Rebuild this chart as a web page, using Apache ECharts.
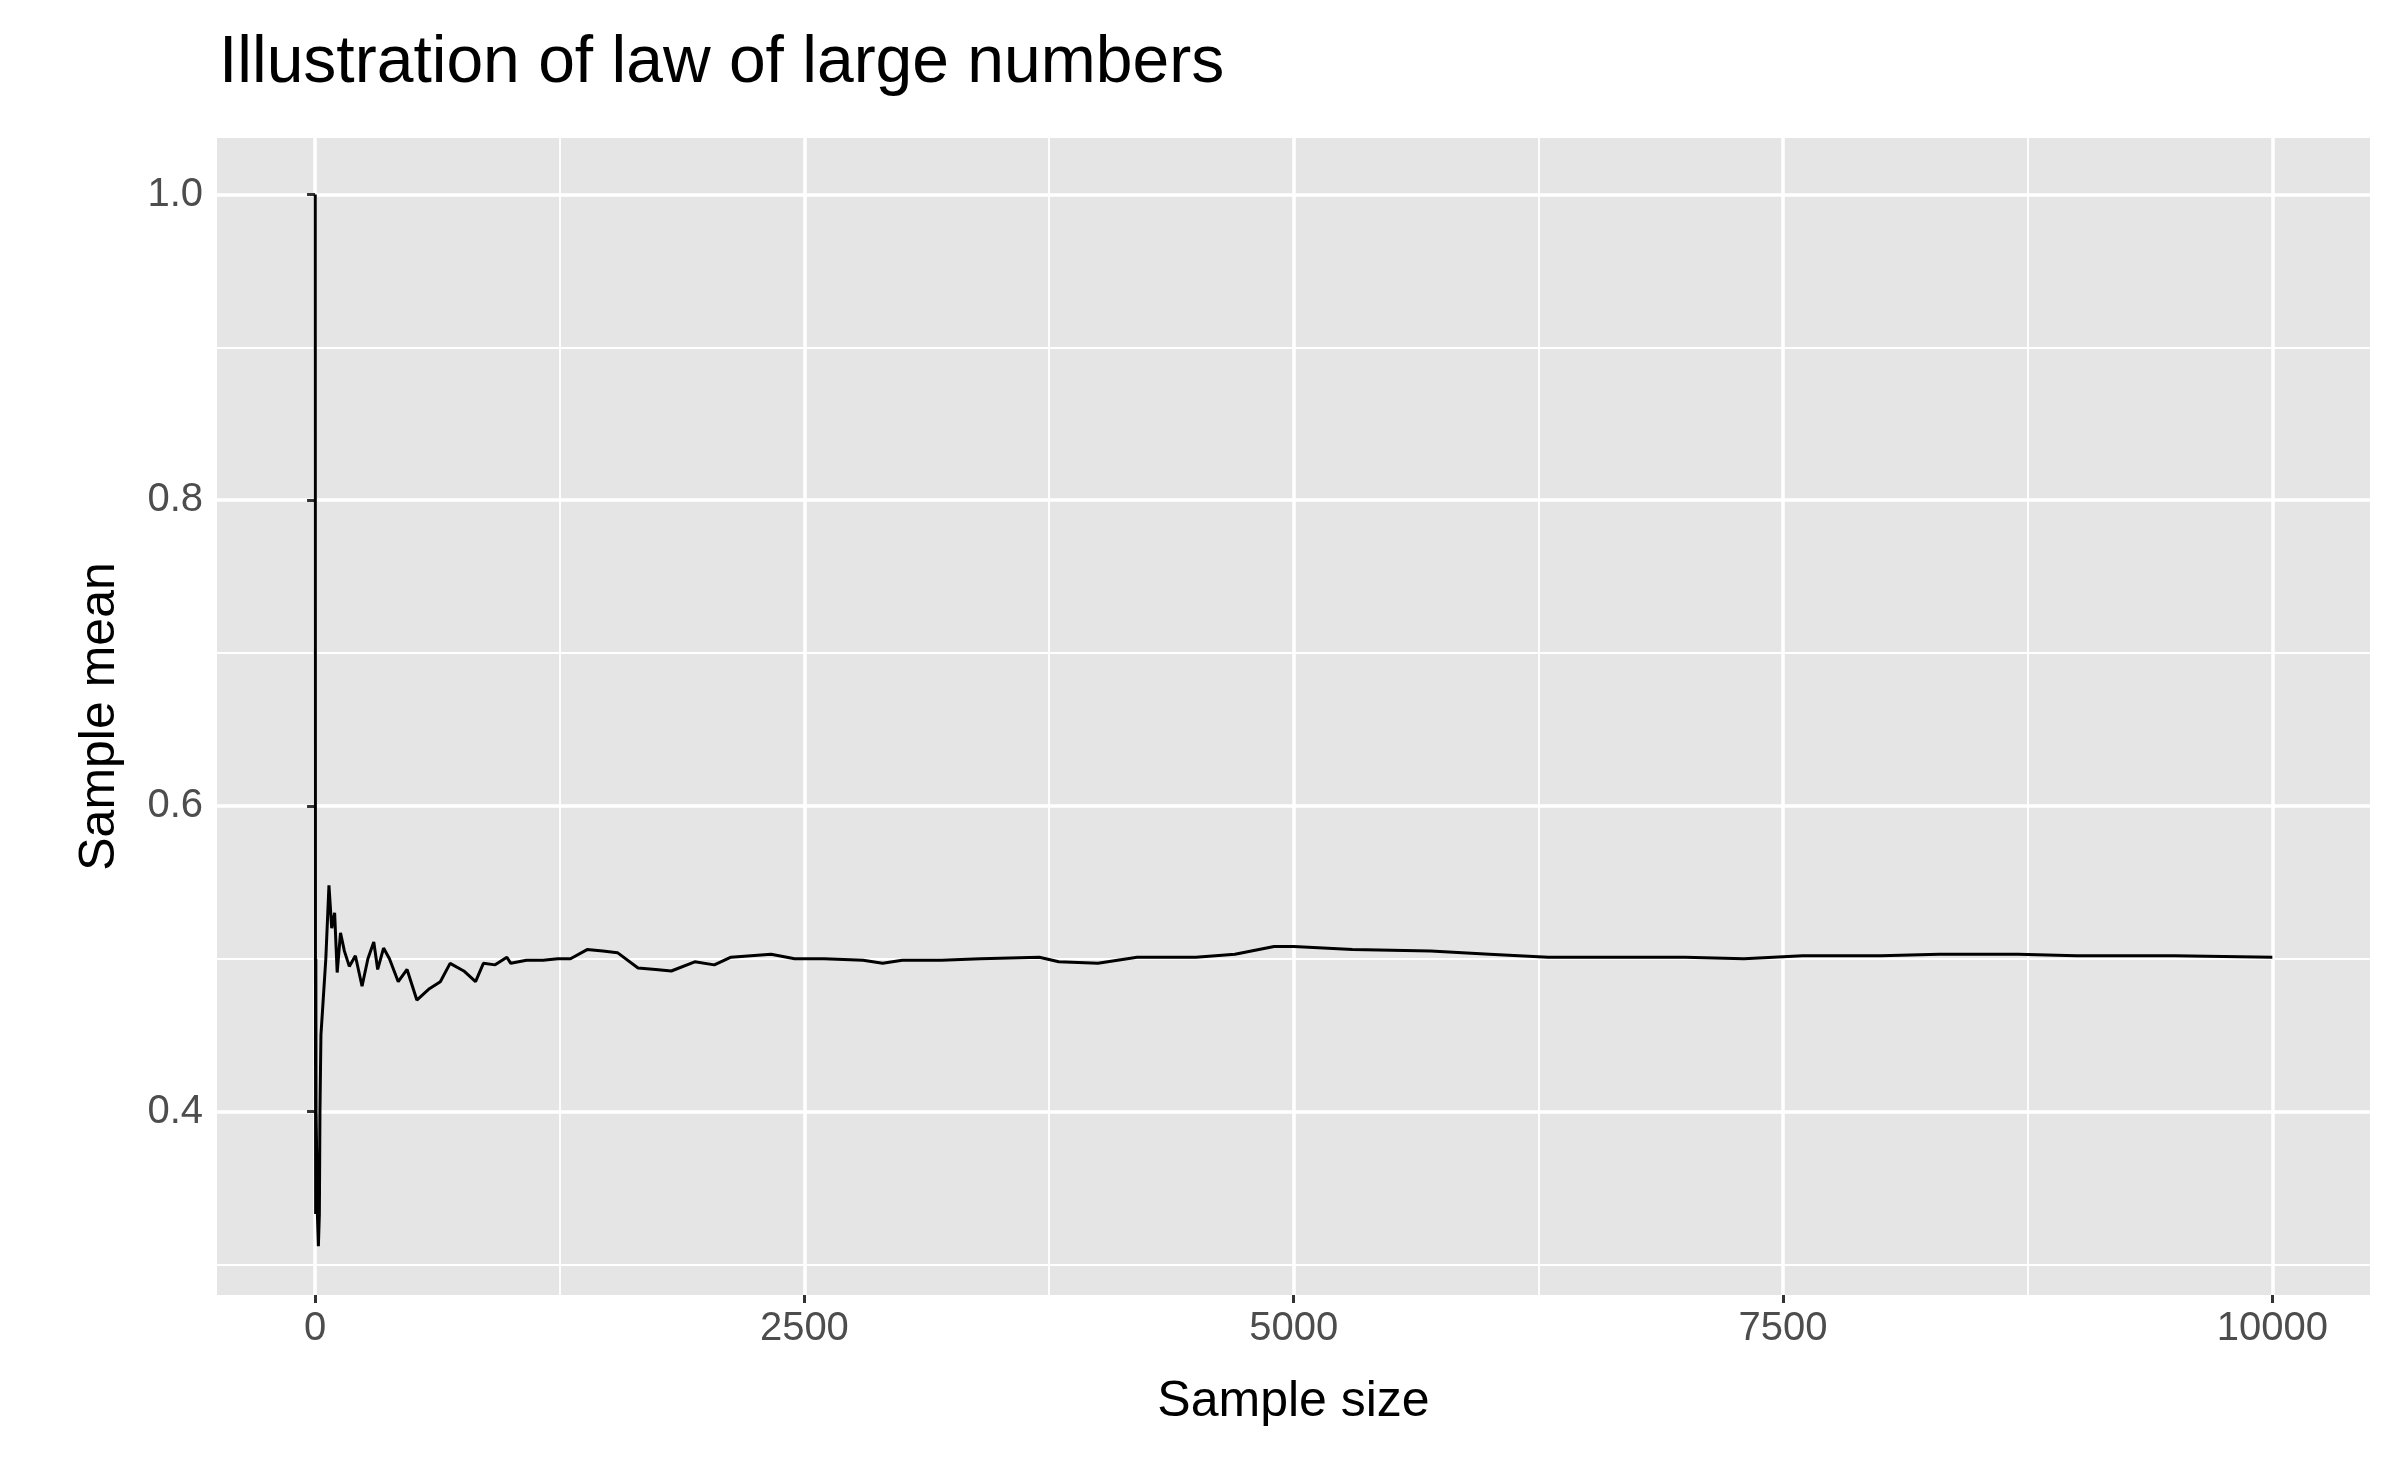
<!DOCTYPE html>
<html>
<head>
<meta charset="utf-8">
<script src="https://cdn.jsdelivr.net/npm/echarts@6/dist/echarts.min.js"></script>
<style>html,body{margin:0;padding:0;background:#fff}#c{width:2400px;height:1483px}</style>
</head>
<body>
<div id="c"></div>
<script>
// running mean
const sampleSize = [1,2,3,4,5,8,12,17,22,25,30,40,55,71,85,100,113,130,150,175,206,240,270,300,320,350,380,425,470,520,580,640,690,760,820,860,920,980,1000,1080,1165,1240,1305,1390,1470,1545,1650,1740,1820,1940,2040,2125,2330,2450,2600,2800,2900,3000,3200,3400,3700,3800,4000,4200,4500,4700,4900,5000,5300,5700,6000,6300,7000,7300,7600,8000,8300,8700,9000,9500,10000];
const sampleMean = [1,0.5,0.333,0.5,0.4,0.375,0.333,0.312,0.333,0.4,0.45,0.47,0.5,0.548,0.52,0.53,0.491,0.517,0.505,0.495,0.502,0.482,0.5,0.511,0.493,0.507,0.5,0.485,0.493,0.473,0.48,0.485,0.497,0.492,0.485,0.497,0.496,0.501,0.497,0.499,0.499,0.5,0.5,0.506,0.505,0.504,0.494,0.493,0.492,0.498,0.496,0.501,0.503,0.5,0.5,0.499,0.497,0.499,0.499,0.5,0.501,0.498,0.497,0.501,0.501,0.503,0.508,0.508,0.506,0.505,0.503,0.501,0.501,0.5,0.502,0.502,0.503,0.503,0.502,0.502,0.501];
const xTicks = [0,2500,5000,7500,10000];
const xMinor = [1250,3750,6250,8750];
const yTicks = [0.4,0.6,0.8,1.0];
const yMinor = [0.3,0.5,0.7,0.9];

const chart = echarts.init(document.getElementById('c'));
const font = 'Liberation Sans, Arial, sans-serif';
const minorLines = xMinor.map(v => ({xAxis: v})).concat(yMinor.map(v => ({yAxis: v})));

chart.setOption({
  backgroundColor: '#fff',
  animation: false,
  title: {
    text: 'Illustration of law of large numbers',
    left: 214, top: 26,
    textStyle: {fontFamily: font, fontSize: 66, fontWeight: 'normal', color: '#000'}
  },
  grid: {left: 217, right: 30, top: 138, bottom: 188, show: true, backgroundColor: '#e5e5e5', borderWidth: 0},
  xAxis: {
    type: 'value', min: -501, max: 10499,
    name: 'Sample size', nameLocation: 'middle', nameGap: 82,
    nameTextStyle: {fontFamily: font, fontSize: 50, color: '#000'},
    axisLine: {show: false},
    axisTick: {show: true, customValues: xTicks, length: 8, lineStyle: {color: '#333', width: 3}},
    axisLabel: {customValues: xTicks, fontFamily: font, fontSize: 40, color: '#4d4d4d', margin: 14,
      formatter: v => String(v)},
    splitLine: {show: true, lineStyle: {color: '#fff', width: 3.5}}
  },
  yAxis: {
    type: 'value', min: 0.28, max: 1.037,
    name: 'Sample mean', nameLocation: 'middle', nameGap: 92,
    nameTextStyle: {fontFamily: font, fontSize: 50, color: '#000'},
    axisLine: {show: false},
    axisTick: {show: true, customValues: yTicks, length: 8, lineStyle: {color: '#333', width: 3}},
    axisLabel: {customValues: yTicks, fontFamily: font, fontSize: 40, color: '#4d4d4d', margin: 14,
      formatter: v => v.toFixed(1)},
    splitLine: {show: true, lineStyle: {color: '#fff', width: 3.5}}
  },
  series: [{
    type: 'line',
    data: [],
    z: 1,
    markLine: {
      silent: true, symbol: 'none', label: {show: false},
      lineStyle: {color: '#fff', width: 1.8, type: 'solid'},
      data: minorLines
    }
  }, {
    type: 'line',
    data: sampleSize.map((n, i) => [n, sampleMean[i]]),
    showSymbol: false,
    lineStyle: {color: '#000', width: 3},
    z: 5
  }]
});
</script>
</body>
</html>
